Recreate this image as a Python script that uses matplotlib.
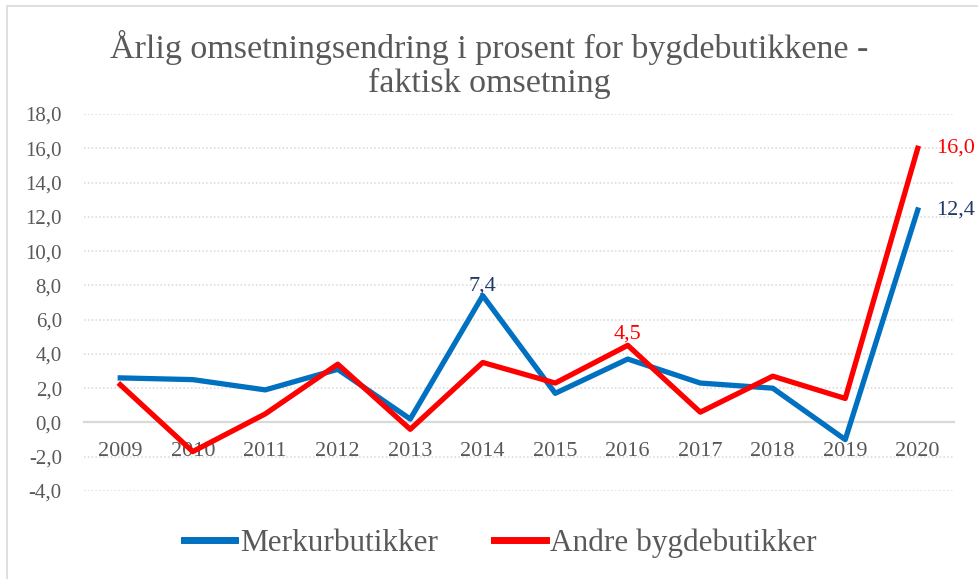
import matplotlib.pyplot as plt
from matplotlib.patches import Rectangle

years = ['2009', '2010', '2011', '2012', '2013', '2014',
         '2015', '2016', '2017', '2018', '2019', '2020']
merkur = [2.6, 2.5, 1.9, 3.1, 0.2, 7.4, 1.7, 3.7, 2.3, 2.0, -1.0, 12.4]
andre = [2.2, -1.7, 0.5, 3.4, -0.4, 3.5, 2.3, 4.5, 0.6, 2.7, 1.4, 16.0]
yticks = [-4, -2, 0, 2, 4, 6, 8, 10, 12, 14, 16, 18]

blue = '#0070c0'
red = '#ff0000'
navy = '#1f3864'
grey = '#595959'

plt.rcParams['font.family'] = ['Liberation Serif', 'DejaVu Serif']

fig = plt.figure(figsize=(9.79, 5.79), dpi=100)
fig.patches.append(Rectangle((7 / 979, -0.1), 1.2, 1.1 - 6 / 579, transform=fig.transFigure,
                             fill=False, edgecolor='#d9d9d9', linewidth=1.2))
ax = fig.add_axes([84 / 979, 88 / 579, 870 / 979, 377 / 579])

x = list(range(len(years)))
ax.plot(x, merkur, color=blue, linewidth=3.8, label='Merkurbutikker', zorder=3)
ax.plot(x, andre, color=red, linewidth=3.8, label='Andre bygdebutikker', zorder=4)

ax.set_xlim(-0.5, len(years) - 0.5)
ax.set_ylim(-4, 18)
ax.set_yticks(yticks)
ax.set_yticklabels([('%.1f' % v).replace('.', ',') for v in yticks])
ax.set_xticks(x)
ax.set_xticklabels(years)
for v in yticks:
    if v != 0:
        ax.axhline(v, color='#d9d9d9', linestyle=(0, (1, 1.5)), linewidth=1.1, zorder=1)

for s in ['top', 'right', 'left']:
    ax.spines[s].set_visible(False)
ax.spines['bottom'].set_position(('data', 0))
ax.spines['bottom'].set_color('#d9d9d9')
ax.spines['bottom'].set_linewidth(1.6)
ax.tick_params(axis='y', length=0, labelsize=15, labelcolor=grey, pad=16)
ax.tick_params(axis='x', length=0, labelsize=16, labelcolor=grey, pad=14)

# data labels
i14 = years.index('2014')
ax.annotate('7,4', (i14, merkur[i14]), xytext=(0, 0), textcoords='offset points',
            ha='center', va='bottom', color=navy, fontsize=16)
i16 = years.index('2016')
ax.annotate('4,5', (i16, andre[i16]), xytext=(0, 1), textcoords='offset points',
            ha='center', va='bottom', color=red, fontsize=16)
ax.annotate('16,0', (11, andre[11]), xytext=(13, 0), textcoords='offset points',
            ha='left', va='center', color=red, fontsize=16)
ax.annotate('12,4', (11, merkur[11]), xytext=(13, 0), textcoords='offset points',
            ha='left', va='center', color=navy, fontsize=16)

fig.text(0.5, 1 - 64 / 579, 'Årlig omsetningsendring i prosent for bygdebutikkene -\nfaktisk omsetning',
         ha='center', va='center', fontsize=24.5, color=grey, linespacing=1.12)

fig.legend(loc='center', bbox_to_anchor=(0.511, 1 - 543 / 579), ncol=2, frameon=False,
           fontsize=22.5, labelcolor=grey, handlelength=1.65, handletextpad=0.15,
           columnspacing=1.8)
for line in fig.legends[0].get_lines():
    line.set_linewidth(5)

plt.savefig('out.png')
